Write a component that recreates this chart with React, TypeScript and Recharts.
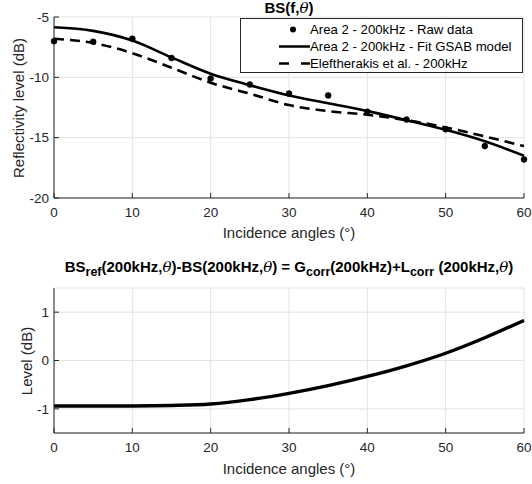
import React from "react";
import { CartesianGrid, ComposedChart, Line, XAxis, YAxis } from "recharts";

// incidence angles (deg) shared by all series
const angles = [0, 5, 10, 15, 20, 25, 30, 35, 40, 45, 50, 55, 60];
// Area 2 - 200kHz raw data (dB)
const rawData = [-7.0, -7.05, -6.8, -8.4, -10.1, -10.6, -11.35, -11.5, -12.85, -13.5, -14.3, -15.7, -16.8];
// Area 2 - 200kHz fit GSAB model (dB)
const gsabFit = [-5.85, -6.15, -6.95, -8.35, -9.7, -10.65, -11.5, -12.15, -12.8, -13.55, -14.35, -15.3, -16.5];
// Eleftherakis et al. - 200kHz (dB)
const eleftherakis = [-6.8, -7.15, -8.0, -9.2, -10.45, -11.35, -12.3, -12.8, -13.1, -13.55, -14.15, -14.9, -15.7];
// BSref - BS correction level (dB)
const corrLevel = [-0.94, -0.94, -0.94, -0.93, -0.9, -0.81, -0.68, -0.52, -0.33, -0.11, 0.15, 0.47, 0.83];

const xTicks = [0, 10, 20, 30, 40, 50, 60];
const topYTicks = [-20, -15, -10, -5];
const bottomYTicks = [-1, 0, 1];

const topRows = angles.map((a, i) => ({
  angle: a,
  raw: rawData[i],
  fit: gsabFit[i],
  ref: eleftherakis[i],
}));
const bottomRows = angles.map((a, i) => ({ angle: a, level: corrLevel[i] }));

const AXIS = "#262626";
const tickStyle = { fontSize: 13.5, fill: AXIS };
const noTick = () => <g />;
const theta = <i style={{ fontFamily: '"DejaVu Serif", serif', fontWeight: 400 }}>θ</i>;
const sub = { fontSize: 12.5, verticalAlign: "-0.35em" } as const;

function Frame({ domain, yTicks }: { domain: [number, number]; yTicks: number[] }) {
  return (
    <>
      <CartesianGrid stroke="#e3e3e3" strokeWidth={1} />
      <XAxis
        dataKey="angle"
        type="number"
        domain={[0, 60]}
        ticks={xTicks}
        height={30}
        stroke={AXIS}
        tick={tickStyle}
        tickSize={-5}
        tickMargin={14}
      />
      <XAxis xAxisId="top" dataKey="angle" type="number" domain={[0, 60]} ticks={xTicks} orientation="top" height={0} stroke={AXIS} tick={noTick} tickSize={-5} />
      <YAxis
        type="number"
        domain={domain}
        ticks={yTicks}
        width={54}
        stroke={AXIS}
        tick={tickStyle}
        tickSize={-5}
        tickMargin={10}
      />
      <YAxis yAxisId="right" type="number" domain={domain} ticks={yTicks} orientation="right" width={0} stroke={AXIS} tick={noTick} tickSize={-5} />
    </>
  );
}

function LegendBox() {
  const row = { display: "flex", alignItems: "center", height: 17 } as const;
  return (
    <div
      style={{
        position: "absolute",
        left: 240,
        top: 18,
        width: 283,
        height: 55,
        border: "1px solid #262626",
        background: "#fff",
        boxSizing: "border-box",
        fontSize: 13.2,
        color: "#000",
        paddingTop: 2,
      }}
    >
      <div style={row}>
        <svg width={69} height={17}>
          <circle cx={52} cy={8.5} r={3} fill="#000" />
        </svg>
        <span>Area 2 - 200kHz - Raw data</span>
      </div>
      <div style={row}>
        <svg width={69} height={17}>
          <line x1={38} x2={69} y1={8.5} y2={8.5} stroke="#000" strokeWidth={2.5} />
        </svg>
        <span>Area 2 - 200kHz - Fit GSAB model</span>
      </div>
      <div style={row}>
        <svg width={69} height={17}>
          <line x1={38} x2={69} y1={8.5} y2={8.5} stroke="#000" strokeWidth={2.5} strokeDasharray="10 12" />
        </svg>
        <span>Eleftherakis et al. - 200kHz</span>
      </div>
    </div>
  );
}

const abs = (extra: React.CSSProperties): React.CSSProperties => ({ position: "absolute", whiteSpace: "nowrap", ...extra });

export default function App() {
  return (
    <div
      style={{
        position: "absolute",
        left: 0,
        top: 0,
        width: 532,
        height: 484,
        background: "#fff",
        fontFamily: '"Liberation Sans", Arial, sans-serif',
        color: AXIS,
      }}
    >
      <div style={abs({ left: 0, top: 0 })}>
        <ComposedChart width={532} height={250} data={topRows} margin={{ top: 17, right: 8, bottom: 22, left: 0 }}>
          {Frame({ domain: [-20, -5], yTicks: topYTicks })}
          <Line dataKey="ref" type="monotone" stroke="#000" strokeWidth={2.6} strokeDasharray="10 6" dot={false} isAnimationActive={false} />
          <Line dataKey="fit" type="monotone" stroke="#000" strokeWidth={2.6} dot={false} isAnimationActive={false} />
          <Line dataKey="raw" stroke="none" dot={{ r: 3, fill: "#000", stroke: "#000", strokeWidth: 0.5 }} isAnimationActive={false} />
        </ComposedChart>
      </div>
      <LegendBox />
      <div style={abs({ left: 0, top: 250 })}>
        <ComposedChart width={532} height={234} data={bottomRows} margin={{ top: 38, right: 8, bottom: 21, left: 0 }}>
          {Frame({ domain: [-1.5, 1.5], yTicks: bottomYTicks })}
          <Line dataKey="level" type="monotone" stroke="#000" strokeWidth={3.4} dot={false} isAnimationActive={false} />
        </ComposedChart>
      </div>

      <div style={abs({ left: 54, width: 470, top: -1, textAlign: "center", fontWeight: 700, fontSize: 15, color: "#000" })}>
        BS(f,{theta})
      </div>
      <div style={abs({ left: 54, width: 470, top: 258, textAlign: "center", fontWeight: 700, fontSize: 15, color: "#000" })}>
        BS<sub style={sub}>ref</sub>(200kHz,{theta})-BS(200kHz,{theta}) = G<sub style={sub}>corr</sub>(200kHz)+L
        <sub style={sub}>corr</sub> (200kHz,{theta})
      </div>

      <div style={abs({ left: 54, width: 470, top: 224, textAlign: "center", fontSize: 15 })}>Incidence angles (°)</div>
      <div style={abs({ left: 54, width: 470, top: 460, textAlign: "center", fontSize: 15 })}>Incidence angles (°)</div>

      <div style={abs({ left: 18, top: 108, transform: "translate(-50%, -50%) rotate(-90deg)", fontSize: 15 })}>
        Reflectivity level (dB)
      </div>
      <div style={abs({ left: 26, top: 361, transform: "translate(-50%, -50%) rotate(-90deg)", fontSize: 15 })}>Level (dB)</div>
    </div>
  );
}
